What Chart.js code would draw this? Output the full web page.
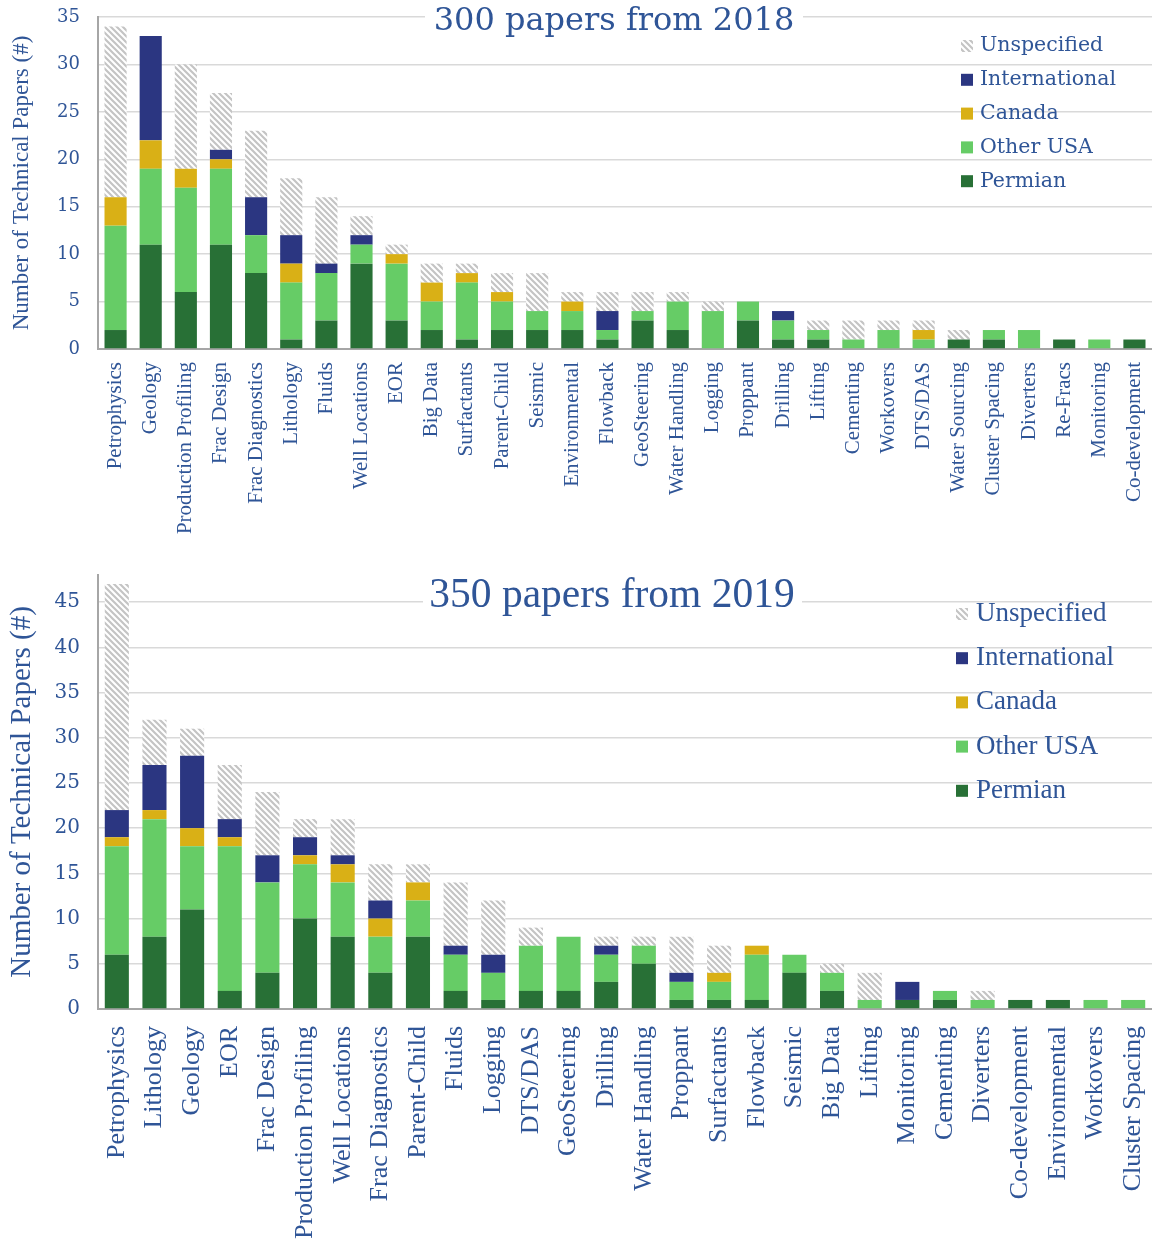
<!DOCTYPE html>
<html>
<head>
<meta charset="utf-8">
<script src="https://cdn.jsdelivr.net/npm/chart.js@4.4.1/dist/chart.umd.min.js"></script>
<style>
  html, body { margin: 0; padding: 0; background: #ffffff; }
  #wrap { position: relative; width: 1152px; height: 1239px; overflow: hidden; }
  .panel { position: absolute; left: 0; width: 1152px; }
  #papers2018 { top: 0; }
  #papers2019 { top: 560px; }
</style>
</head>
<body>
<div id="wrap">
  <canvas id="papers2018" class="panel" width="1152" height="560"></canvas>
  <canvas id="papers2019" class="panel" width="1152" height="679"></canvas>
</div>
<script>
// 2018 papers by topic and region
const topics2018 = ['Petrophysics', 'Geology', 'Production Profiling', 'Frac Design', 'Frac Diagnostics',
    'Lithology', 'Fluids', 'Well Locations', 'EOR', 'Big Data', 'Surfactants', 'Parent-Child', 'Seismic',
    'Environmental', 'Flowback', 'GeoSteering', 'Water Handling', 'Logging', 'Proppant', 'Drilling',
    'Lifting', 'Cementing', 'Workovers', 'DTS/DAS', 'Water Sourcing', 'Cluster Spacing', 'Diverters',
    'Re-Fracs', 'Monitoring', 'Co-development'];
const permian2018 = [2, 11, 6, 11, 8, 1, 3, 9, 3, 2, 1, 2, 2, 2, 1, 3, 2, 0, 3, 1, 1, 0, 0, 0, 1, 1, 0, 1, 0, 1];
const otherUsa2018 = [11, 8, 11, 8, 4, 6, 5, 2, 6, 3, 6, 3, 2, 2, 1, 1, 3, 4, 2, 2, 1, 1, 2, 1, 0, 1, 2, 0, 1, 0];
const canada2018 = [3, 3, 2, 1, 0, 2, 0, 0, 1, 2, 1, 1, 0, 1, 0, 0, 0, 0, 0, 0, 0, 0, 0, 1, 0, 0, 0, 0, 0, 0];
const international2018 = [0, 11, 0, 1, 4, 3, 1, 1, 0, 0, 0, 0, 0, 0, 2, 0, 0, 0, 0, 1, 0, 0, 0, 0, 0, 0, 0, 0, 0, 0];
const unspecified2018 = [18, 0, 11, 6, 7, 6, 7, 2, 1, 2, 1, 2, 4, 1, 2, 2, 1, 1, 0, 0, 1, 2, 1, 1, 1, 0, 0, 0, 0, 0];

// 2019 papers by topic and region
const topics2019 = ['Petrophysics', 'Lithology', 'Geology', 'EOR', 'Frac Design', 'Production Profiling',
    'Well Locations', 'Frac Diagnostics', 'Parent-Child', 'Fluids', 'Logging', 'DTS/DAS', 'GeoSteering',
    'Drilling', 'Water Handling', 'Proppant', 'Surfactants', 'Flowback', 'Seismic', 'Big Data', 'Lifting',
    'Monitoring', 'Cementing', 'Diverters', 'Co-development', 'Environmental', 'Workovers', 'Cluster Spacing'];
const permian2019 = [6, 8, 11, 2, 4, 10, 8, 4, 8, 2, 1, 2, 2, 3, 5, 1, 1, 1, 4, 2, 0, 1, 1, 0, 1, 1, 0, 0];
const otherUsa2019 = [12, 13, 7, 16, 10, 6, 6, 4, 4, 4, 3, 5, 6, 3, 2, 2, 2, 5, 2, 2, 1, 0, 1, 1, 0, 0, 1, 1];
const canada2019 = [1, 1, 2, 1, 0, 1, 2, 2, 2, 0, 0, 0, 0, 0, 0, 0, 1, 1, 0, 0, 0, 0, 0, 0, 0, 0, 0, 0];
const international2019 = [3, 5, 8, 2, 3, 2, 1, 2, 0, 1, 2, 0, 0, 1, 0, 1, 0, 0, 0, 0, 0, 2, 0, 0, 0, 0, 0, 0];
const unspecified2019 = [25, 5, 3, 6, 7, 2, 4, 4, 2, 7, 6, 2, 0, 1, 1, 4, 3, 0, 0, 1, 3, 0, 0, 1, 0, 0, 0, 0];

const TEXT_BLUE = '#2f5597';
const PERMIAN = '#287036';
const OTHER_USA = '#66cc66';
const CANADA = '#d9b016';
const INTERNATIONAL = '#2b3681';
const GRID = '#d9d9d9';
const AXIS = '#a6a6a6';

// grey diagonal hatch used for the "Unspecified" segments
const hatch = () => {
    var c = document.createElement('canvas');
    c.width = 6;
    c.height = 6;
    var g = c.getContext('2d');
    g.fillStyle = '#ffffff';
    g.fillRect(0, 0, 6, 6);
    g.strokeStyle = '#c4c4c4';
    g.lineWidth = 2.2;
    g.beginPath();
    g.moveTo(-1, -1); g.lineTo(7, 7);
    g.moveTo(-1, 5); g.lineTo(1, 7);
    g.moveTo(5, -1); g.lineTo(7, 1);
    g.stroke();
    return g.createPattern(c, 'repeat');
}

// title sitting on the top gridline with a white box behind it
const boxedTitle = {
    id: 'boxedTitle',
    afterDraw(chart, args, o) {
        const ctx = chart.ctx;
        ctx.save();
        ctx.fillStyle = '#ffffff';
        ctx.fillRect(o.boxLeft, o.y - o.boxHeight / 2, o.boxRight - o.boxLeft, o.boxHeight);
        ctx.font = o.font;
        ctx.fillStyle = TEXT_BLUE;
        ctx.textAlign = 'center';
        ctx.textBaseline = 'middle';
        ctx.fillText(o.text, o.x, o.y);
        ctx.restore();
    }
};

// legend drawn inside the plot, last series on top
const insideLegend = {
    id: 'insideLegend',
    afterDraw(chart, args, o) {
        const ctx = chart.ctx;
        ctx.save();
        ctx.font = o.font;
        ctx.textBaseline = 'middle';
        const items = chart.data.datasets.slice().reverse();
        items.forEach((ds, i) => {
            const y = o.y + i * o.step;
            ctx.fillStyle = ds.backgroundColor;
            ctx.fillRect(o.x, y - o.box / 2, o.box, o.box);
            ctx.fillStyle = TEXT_BLUE;
            ctx.fillText(ds.label, o.x + o.gap, y);
        });
        ctx.restore();
    }
};

const makeDatasets = (permian, otherUsa, canada, international, unspecified, barPct) => {
    const series = [
        ['Permian', permian, PERMIAN],
        ['Other USA', otherUsa, OTHER_USA],
        ['Canada', canada, CANADA],
        ['International', international, INTERNATIONAL],
        ['Unspecified', unspecified, hatch()],
    ];
    return series.map(([label, data, color]) => ({
        label: label,
        data: data,
        backgroundColor: color,
        borderWidth: 0,
        barPercentage: barPct,
        categoryPercentage: 1,
    }));
}

const buildChart = (id, s) => {
    const config = {
        type: 'bar',
        data: {
            labels: s.labels,
            datasets: makeDatasets(s.permian, s.otherUsa, s.canada, s.international, s.unspecified, s.barPct),
        },
        options: {
            responsive: false,
            animation: false,
            devicePixelRatio: 1,
            layout: { padding: { top: s.top, right: 0, left: 0, bottom: 0 } },
            plugins: {
                legend: { display: false },
                tooltip: { enabled: false },
                boxedTitle: s.title,
                insideLegend: s.legend,
            },
            scales: {
                x: {
                    stacked: true,
                    grid: { display: false },
                    border: { display: true, color: AXIS, width: 2 },
                    ticks: {
                        color: TEXT_BLUE,
                        font: { family: 'Liberation Serif', size: s.xFont },
                        minRotation: 90,
                        maxRotation: 90,
                        autoSkip: false,
                        padding: s.xPad,
                    },
                    afterFit: (scale) => {
                        scale.height = s.xHeight;
                        scale.paddingLeft = 0;
                        scale.paddingRight = 0;
                    },
                },
                y: {
                    stacked: true,
                    min: 0,
                    max: s.max,
                    grid: { color: GRID, lineWidth: 1.5, drawTicks: false },
                    border: { display: true, color: AXIS, width: 2 },
                    ticks: {
                        stepSize: 5,
                        includeBounds: false,
                        color: TEXT_BLUE,
                        font: { family: 'DejaVu Serif', size: s.yFont },
                        padding: 18,
                    },
                    title: {
                        display: true,
                        text: 'Number of Technical Papers (#)',
                        color: TEXT_BLUE,
                        font: { family: 'Liberation Serif', size: s.yTitleFont },
                        padding: { top: s.yTitlePad, bottom: 0 },
                    },
                    afterFit: (scale) => {
                        scale.width = 98;
                        scale.paddingTop = 0;
                        scale.paddingBottom = 0;
                    },
                }
            }
        },
        plugins: [boxedTitle, insideLegend],
    };
    new Chart(document.getElementById(id), config);
}

buildChart('papers2018', {
    labels: topics2018,
    permian: permian2018,
    otherUsa: otherUsa2018,
    canada: canada2018,
    international: international2018,
    unspecified: unspecified2018,
    barPct: 0.63,
    max: 35,
    top: 17,
    xHeight: 211,
    xPad: 5,
    xFont: 21,
    yFont: 18,
    yTitleFont: 23,
    yTitlePad: 8,
    title: { text: '300 papers from 2018', font: '32px "DejaVu Serif"', x: 614, y: 22, boxLeft: 425, boxRight: 803, boxHeight: 34 },
    legend: { font: '20.5px "DejaVu Serif"', x: 961, y: 46, step: 33.8, box: 12, gap: 19 },
});

buildChart('papers2019', {
    labels: topics2019,
    permian: permian2019,
    otherUsa: otherUsa2019,
    canada: canada2019,
    international: international2019,
    unspecified: unspecified2019,
    barPct: 0.64,
    max: 48,
    top: 15,
    xHeight: 230,
    xPad: 9,
    xFont: 26,
    yFont: 20,
    yTitleFont: 29,
    yTitlePad: 5,
    title: { text: '350 papers from 2019', font: '41.5px "Liberation Serif"', x: 612, y: 36, boxLeft: 423, boxRight: 802, boxHeight: 44 },
    legend: { font: '27px "Liberation Serif"', x: 956, y: 54, step: 44.2, box: 12, gap: 20 },
});
</script>
</body>
</html>
